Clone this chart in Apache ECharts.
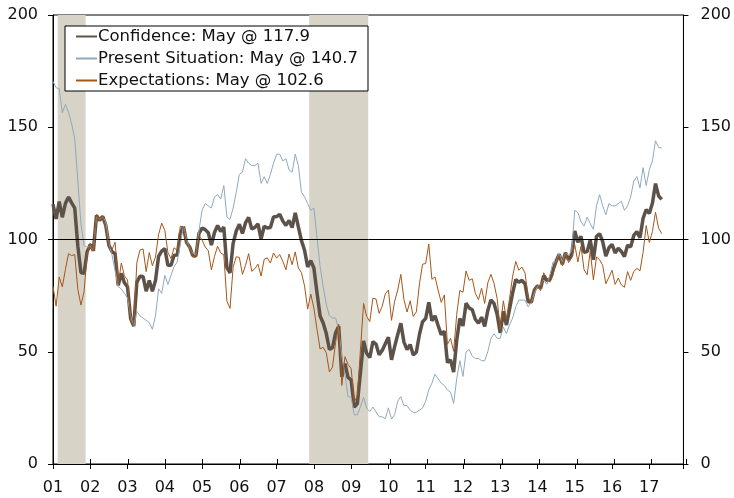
<!DOCTYPE html>
<html>
<head>
<meta charset="utf-8">
<script src="https://cdn.jsdelivr.net/npm/echarts@6/dist/echarts.min.js"></script>
<style>
  html, body { margin: 0; padding: 0; background: #fff; }
  #chart { width: 734px; height: 498px; }
</style>
</head>
<body>
<div id="chart"></div>
<script>
// month index 0 = Jan 2001, one tick label per January
var yearLabels = ['01', '02', '03', '04', '05', '06', '07', '08', '09', '10', '11', '12', '13', '14', '15', '16', '17'];
var seriesNames = ['Confidence: May @ 117.9', 'Present Situation: May @ 140.7', 'Expectations: May @ 102.6'];

var confidence = [
  115.7, 109.2, 116.9, 109.9, 116.1, 118.9, 116.3, 114.0, 97.0, 85.3, 84.9, 94.6,
  97.8, 95.0, 110.7, 108.5, 110.3, 106.3, 97.4, 94.5, 93.7, 79.6, 84.9, 80.7,
  78.8, 64.8, 61.4, 81.0, 83.6, 83.5, 77.0, 81.7, 77.0, 81.7, 92.5, 94.8,
  96.0, 88.5, 88.5, 93.0, 93.1, 102.8, 105.7, 98.7, 96.7, 92.9, 92.6, 102.7,
  105.1, 104.4, 103.0, 97.5, 103.1, 106.2, 103.6, 105.5, 87.5, 85.2, 98.3, 103.8,
  106.8, 102.7, 107.5, 109.8, 104.7, 105.4, 107.0, 100.2, 105.9, 105.1, 105.3, 110.0,
  110.2, 111.2, 108.2, 106.3, 108.5, 105.3, 111.9, 105.6, 99.5, 95.2, 87.8, 90.6,
  87.3, 76.4, 65.9, 62.8, 58.1, 51.0, 51.9, 58.5, 61.4, 38.8, 44.7, 38.6,
  37.4, 25.3, 26.9, 40.8, 54.8, 49.3, 47.4, 54.5, 53.4, 48.7, 50.6, 53.6,
  56.5, 46.4, 52.3, 57.7, 62.7, 54.3, 51.0, 53.2, 48.6, 49.9, 57.8, 63.4,
  64.8, 72.0, 63.8, 66.0, 61.7, 57.6, 59.2, 45.2, 46.4, 40.9, 55.2, 64.8,
  61.5, 71.6, 69.5, 68.7, 64.4, 62.7, 65.4, 61.3, 68.4, 73.1, 71.5, 66.7,
  58.4, 68.0, 61.9, 69.0, 76.2, 82.1, 81.0, 81.8, 80.2, 72.4, 72.0, 77.5,
  79.4, 78.3, 83.9, 81.7, 82.2, 86.4, 90.3, 93.4, 89.0, 94.1, 91.0, 93.1,
  103.8, 98.8, 101.4, 94.3, 94.6, 99.8, 91.0, 101.3, 102.6, 99.1, 92.6, 96.3,
  97.8, 94.0, 96.1, 94.7, 92.4, 97.4, 96.7, 101.8, 103.5, 100.8, 109.4, 113.3,
  111.6, 116.1, 124.9, 119.4, 117.9
];

var present = [
  170.4, 167.6, 167.2, 156.4, 160.2, 156.7, 151.5, 144.9, 126.0, 107.0, 97.3, 96.6,
  97.0, 95.0, 110.0, 109.0, 110.0, 108.0, 98.0, 93.0, 86.0, 79.0, 78.0, 76.0,
  74.0, 66.0, 61.0, 68.0, 66.0, 65.0, 64.0, 63.0, 60.0, 66.0, 78.0, 76.0,
  84.0, 80.0, 84.0, 88.0, 90.0, 98.0, 106.0, 100.0, 96.0, 94.0, 93.0, 104.0,
  113.0, 116.0, 115.0, 114.0, 119.0, 120.0, 118.0, 124.0, 110.0, 109.0, 114.0, 121.0,
  129.0, 130.0, 136.0, 134.0, 133.0, 133.0, 134.0, 125.0, 128.0, 125.0, 129.0, 134.0,
  138.0, 138.0, 135.0, 136.0, 131.0, 130.0, 138.0, 133.0, 121.0, 119.0, 116.0, 113.0,
  114.0, 101.0, 88.0, 79.0, 71.0, 66.0, 65.0, 65.0, 60.0, 48.0, 40.0, 30.0,
  29.7, 21.9, 21.9, 25.5, 29.7, 24.8, 23.4, 25.4, 23.2, 21.1, 21.0, 20.2,
  25.0, 20.0, 22.0, 28.0, 30.0, 26.0, 26.0, 24.0, 23.0, 23.0, 24.0, 25.0,
  28.0, 33.0, 36.0, 40.0, 38.0, 36.0, 35.0, 33.0, 32.0, 27.0, 38.0, 46.0,
  39.0, 50.0, 51.0, 48.0, 47.0, 47.0, 46.0, 46.0, 50.0, 56.0, 58.0, 56.0,
  56.0, 61.0, 58.0, 62.0, 65.0, 70.0, 73.0, 73.0, 73.0, 70.0, 72.0, 76.0,
  79.0, 80.0, 82.0, 80.0, 84.0, 90.0, 90.0, 94.0, 90.0, 94.0, 93.0, 95.0,
  113.0, 112.0, 108.0, 106.0, 110.0, 107.0, 104.5, 115.0, 120.0, 115.0, 111.0, 116.0,
  115.0, 115.0, 116.0, 117.0, 113.0, 115.0, 119.0, 126.0, 128.0, 123.0, 132.0, 124.0,
  131.0, 135.0, 144.0, 141.0, 140.7
];

var expectations = [
  79.2, 70.3, 83.3, 78.9, 86.7, 93.7, 92.8, 93.3, 77.7, 70.8, 76.7, 93.3,
  98.3, 95.0, 111.2, 108.2, 110.5, 105.2, 97.0, 95.5, 98.8, 80.0, 89.5, 83.8,
  82.0, 64.0, 61.7, 89.7, 95.3, 95.8, 85.7, 94.2, 88.3, 92.2, 102.2, 107.3,
  104.0, 94.2, 91.5, 96.3, 95.2, 106.0, 105.5, 97.8, 97.2, 92.2, 92.3, 101.8,
  99.8, 96.7, 95.0, 86.5, 92.5, 97.0, 94.0, 93.2, 72.5, 69.3, 87.8, 92.3,
  92.0, 84.5, 88.5, 93.7, 85.8, 87.0, 89.0, 83.7, 91.2, 91.8, 89.5, 94.0,
  91.7, 93.3, 90.3, 86.5, 93.5, 88.8, 94.5, 87.3, 85.2, 79.3, 69.0, 75.7,
  69.5, 60.0, 51.2, 52.0, 49.5, 41.0, 43.2, 54.2, 62.3, 35.0, 47.8, 44.3,
  42.5, 27.6, 30.3, 51.0, 71.5, 65.7, 63.4, 73.9, 73.5, 67.1, 70.3, 75.8,
  77.5, 64.0, 72.5, 77.5, 84.5, 73.2, 67.7, 72.7, 65.7, 67.8, 80.3, 89.0,
  89.3, 98.0, 82.3, 83.3, 77.5, 72.0, 75.3, 53.3, 56.0, 50.2, 66.7, 77.3,
  76.5, 86.0, 81.8, 82.5, 76.0, 73.2, 78.3, 71.5, 80.7, 84.5, 80.5, 73.8,
  60.0, 72.7, 64.5, 73.7, 83.7, 90.2, 86.3, 87.7, 85.0, 74.0, 72.0, 78.5,
  79.7, 77.2, 85.2, 82.8, 81.0, 84.0, 90.5, 93.0, 88.3, 94.2, 89.7, 91.8,
  97.7, 90.0, 97.0, 86.5, 84.3, 95.0, 82.0, 92.2, 91.0, 88.5, 80.3, 83.2,
  86.3, 80.0, 82.8, 79.8, 78.7, 85.7, 81.8, 85.7, 87.2, 86.0, 94.3, 106.2,
  98.7, 103.5, 112.2, 105.0, 102.6
];

// recession bands, in months since Jan 2001
var recessions = [[1.5, 10.5], [82.5, 101.5]];

var FONT = 'DejaVu Sans';
var plotGrid = { left: 53, right: 48, top: 15, bottom: 34 };

function toPoints(arr) {
  return arr.map(function (v, i) { return [i, v]; });
}

var chart = echarts.init(document.getElementById('chart'));

var xBase = { type: 'value', min: 0, max: 203, interval: 12 };
var yBase = { type: 'value', min: 0, max: 200, interval: 50, splitLine: { show: false } };

chart.setOption({
  animation: false,
  textStyle: { fontFamily: FONT },
  grid: [
    Object.assign({ show: true, borderColor: '#000', borderWidth: 1, backgroundColor: 'transparent' }, plotGrid),
    Object.assign({}, plotGrid)
  ],
  legend: {
    data: seriesNames,
    orient: 'vertical',
    left: 65,
    top: 26,
    backgroundColor: '#fff',
    borderColor: '#000',
    borderWidth: 1,
    borderRadius: 0,
    padding: [2, 10, 2, 10],
    itemWidth: 21,
    itemHeight: 14,
    itemGap: 5,
    itemStyle: { opacity: 0 },
    textStyle: { fontFamily: FONT, fontSize: 16.5, color: '#111', padding: [0, 0, 0, -4] }
  },
  xAxis: [
    Object.assign({}, xBase, {
      gridIndex: 0,
      axisLine: { lineStyle: { color: '#000', width: 1 } },
      axisTick: { length: 5, lineStyle: { color: '#000' } },
      axisLabel: {
        margin: 16, fontSize: 16, color: '#111', fontFamily: FONT,
        formatter: function (v) { return yearLabels[v / 12] || ''; }
      },
      splitLine: { show: false }
    }),
    Object.assign({}, xBase, {
      gridIndex: 1,
      axisLine: { show: false },
      axisTick: { inside: true, length: 5, lineStyle: { color: '#000' } },
      axisLabel: { show: false },
      splitLine: { show: false }
    })
  ],
  yAxis: [
    Object.assign({}, yBase, {
      gridIndex: 0, position: 'left',
      axisLine: { show: true, lineStyle: { color: '#000' } },
      axisTick: { show: true, length: 5, lineStyle: { color: '#000' } },
      axisLabel: { margin: 15, fontSize: 16, color: '#111', fontFamily: FONT }
    }),
    Object.assign({}, yBase, {
      gridIndex: 0, position: 'right',
      axisLine: { show: true, lineStyle: { color: '#000' } },
      axisTick: { show: true, length: 5, lineStyle: { color: '#000' } },
      axisLabel: { margin: 17, fontSize: 16, color: '#111', fontFamily: FONT }
    }),
    Object.assign({}, yBase, {
      gridIndex: 1, position: 'right',
      axisLine: { show: false },
      axisTick: { show: true, inside: true, length: 5, lineStyle: { color: '#000' } },
      axisLabel: { show: false }
    })
  ],
  series: [
    {
      // recession shading + the 100 reference line
      type: 'line',
      data: [],
      z: 1,
      silent: true,
      markArea: {
        silent: true,
        itemStyle: { color: '#d7d3c7' },
        data: recessions.map(function (r) { return [{ xAxis: r[0] }, { xAxis: r[1] }]; })
      },
      markLine: {
        silent: true,
        symbol: 'none',
        label: { show: false },
        lineStyle: { color: '#000', width: 1, type: 'solid' },
        data: [{ yAxis: 100 }]
      }
    },
    {
      name: seriesNames[0],
      type: 'line',
      data: toPoints(confidence),
      z: 3,
      showSymbol: false,
      symbol: 'none',
      color: '#5c5249',
      lineStyle: { color: '#5c5249', width: 3.5 }
    },
    {
      name: seriesNames[1],
      type: 'line',
      data: toPoints(present),
      z: 4,
      showSymbol: false,
      symbol: 'none',
      color: '#8fa9bd',
      lineStyle: { color: '#8fa9bd', width: 1 }
    },
    {
      name: seriesNames[2],
      type: 'line',
      data: toPoints(expectations),
      z: 5,
      showSymbol: false,
      symbol: 'none',
      color: '#a5561b',
      lineStyle: { color: '#a5561b', width: 1 }
    }
  ]
});
</script>
</body>
</html>
